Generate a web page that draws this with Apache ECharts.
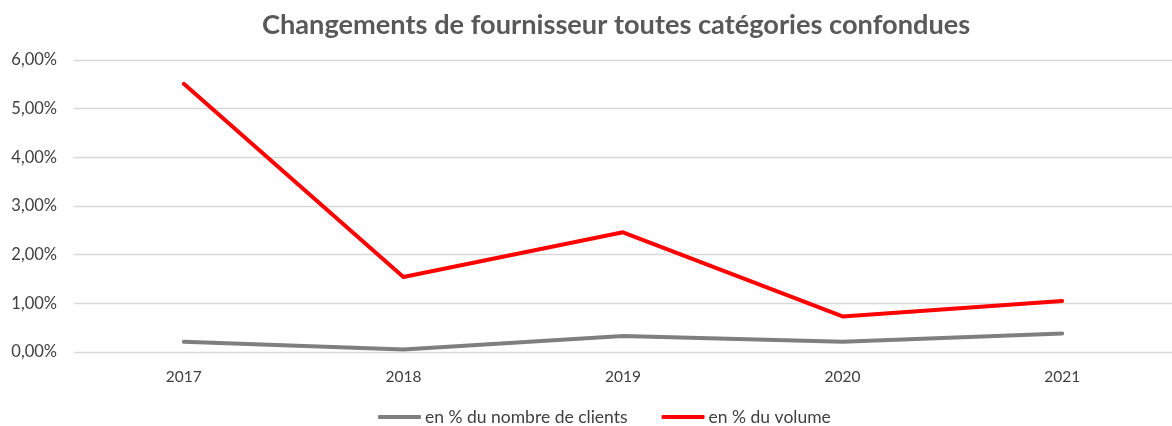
<!DOCTYPE html>
<html>
<head>
<meta charset="utf-8">
<script src="https://cdn.jsdelivr.net/npm/echarts@6/dist/echarts.min.js"></script>
<style>html,body{margin:0;padding:0;background:#fff}#c{width:1172px;height:426px}</style>
</head>
<body>
<div id="c"></div>
<script>
const categories = ['2017', '2018', '2019', '2020', '2021'];
const clients = [0.21, 0.05, 0.33, 0.21, 0.38];
const volume = [5.51, 1.54, 2.46, 0.73, 1.05];
const yTicks = [0, 1, 2, 3, 4, 5, 6];

const font = 'Lato, "Open Sans", sans-serif';
const chart = echarts.init(document.getElementById('c'));
chart.setOption({
  animation: false,
  title: {
    text: 'Changements de fournisseur toutes catégories confondues',
    left: 257, top: 7,
    textStyle: { fontFamily: font, fontSize: 27.2, fontWeight: 'bold', color: '#595959' }
  },
  legend: {
    bottom: 0, left: 378, padding: 0, itemWidth: 43, itemHeight: 4, itemGap: 34,
    icon: 'roundRect',
    textStyle: { fontFamily: font, fontSize: 17.5, color: '#404040', padding: [0, 0, 0, -1] },
    data: ['en % du nombre de clients', 'en % du volume']
  },
  grid: { left: 74, width: 1106, top: 60, height: 292, containLabel: false },
  xAxis: {
    type: 'category', data: categories, boundaryGap: true,
    axisLine: { show: false }, axisTick: { show: false },
    axisLabel: { fontFamily: font, fontSize: 15.5, color: '#404040', margin: 17 }
  },
  yAxis: {
    type: 'value', min: yTicks[0], max: yTicks[yTicks.length - 1], interval: 1,
    axisLine: { show: false }, axisTick: { show: false },
    splitLine: { lineStyle: { color: '#d9d9d9', width: 1.3 } },
    axisLabel: {
      fontFamily: font, fontSize: 16.5, color: '#404040', margin: 17,
      formatter: v => v.toFixed(2).replace('.', ',') + '%'
    }
  },
  series: [
    { name: 'en % du nombre de clients', type: 'line', data: clients, symbol: 'none',
      itemStyle: { color: '#7f7f7f' }, lineStyle: { color: '#7f7f7f', width: 4, cap: 'round', join: 'round' } },
    { name: 'en % du volume', type: 'line', data: volume, symbol: 'none',
      itemStyle: { color: '#ff0000' }, lineStyle: { color: '#ff0000', width: 4, cap: 'round', join: 'round' } }
  ]
});
</script>
</body>
</html>
